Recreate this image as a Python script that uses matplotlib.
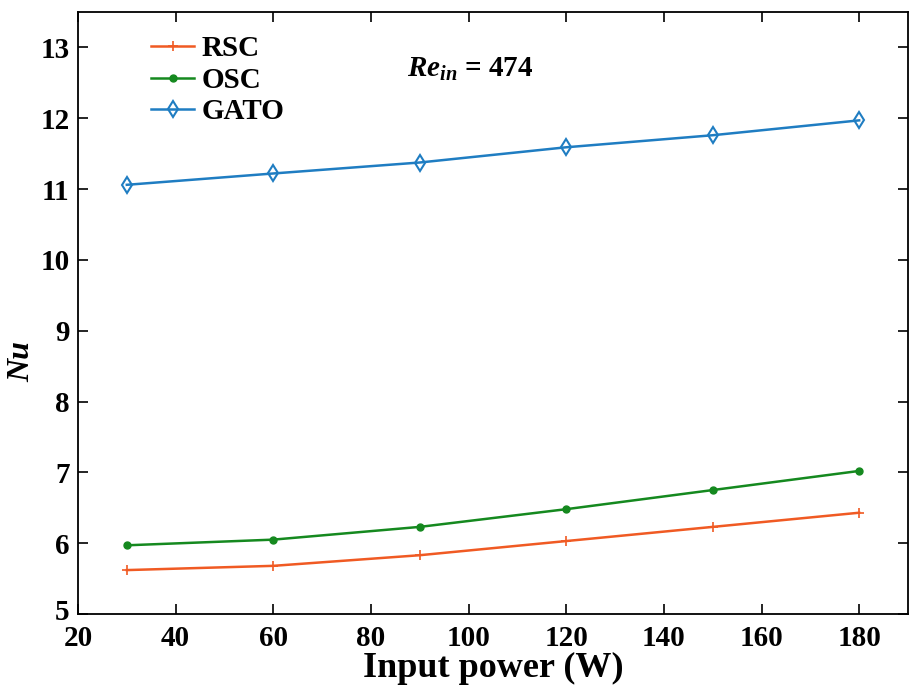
import numpy as np
import matplotlib.pyplot as plt
import matplotlib.transforms as mtransforms

power = [30, 60, 90, 120, 150, 180]
nu_rsc = [5.62, 5.68, 5.83, 6.03, 6.23, 6.43]
nu_osc = [5.97, 6.05, 6.23, 6.48, 6.75, 7.02]
nu_gato = [11.06, 11.22, 11.375, 11.59, 11.76, 11.97]

plt.rcParams['font.family'] = 'Liberation Serif'
plt.rcParams['font.weight'] = 'bold'
plt.rcParams['mathtext.fontset'] = 'custom'
plt.rcParams['mathtext.it'] = 'Liberation Serif:italic:bold'
plt.rcParams['mathtext.rm'] = 'Liberation Serif:bold'

fig = plt.figure(figsize=(9.1, 6.91), dpi=100)
ax = fig.add_axes([78 / 910, 1 - 614 / 691, 830 / 910, 602 / 691])

ax.plot(power, nu_rsc, color='#f05a23', lw=1.8, marker='+', ms=7, mew=1.2, label='RSC')
ax.plot(power, nu_osc, color='#15891f', lw=1.8, marker='o', ms=5, label='OSC')
ax.plot(power, nu_gato, color='#1f7dc2', lw=1.8, marker='d', ms=8, mfc='none', mew=1.5, label='GATO')

ax.set_xlim(20, 190)
ax.set_ylim(5, 13.5)
ax.set_xticks(np.arange(20, 181, 20))
ax.set_yticks(np.arange(5, 14, 1))
ax.tick_params(direction='in', top=True, right=True, labelsize=21, length=7, width=1.2)
ax.tick_params(axis='x', pad=8)
ax.tick_params(axis='y', pad=6)
for s in ax.spines.values():
    s.set_linewidth(1.3)

# lift the "5" a little, as in the original
fig.canvas.draw()
lab5 = ax.get_yticklabels()[0]
lab5.set_transform(lab5.get_transform() + mtransforms.ScaledTranslation(0, 4 / 100, fig.dpi_scale_trans))

ax.set_xlabel('Input power (W)', fontsize=26, fontweight='bold', labelpad=0)
ax.set_ylabel('Nu', fontsize=23, fontweight='bold', fontstyle='italic')
ax.yaxis.set_label_coords(-0.05, 0.42)

ax.text(0.396, 0.905, r'$Re_{in}$' + ' = 474', transform=ax.transAxes,
        fontsize=21, fontweight='bold', ha='left', va='center')

ax.legend(loc='upper left', bbox_to_anchor=(0.063, 0.995), frameon=False, fontsize=21,
          handlelength=1.5, handletextpad=0.25, labelspacing=0.15, borderaxespad=0.3)

fig.savefig('out.png', dpi=100)
